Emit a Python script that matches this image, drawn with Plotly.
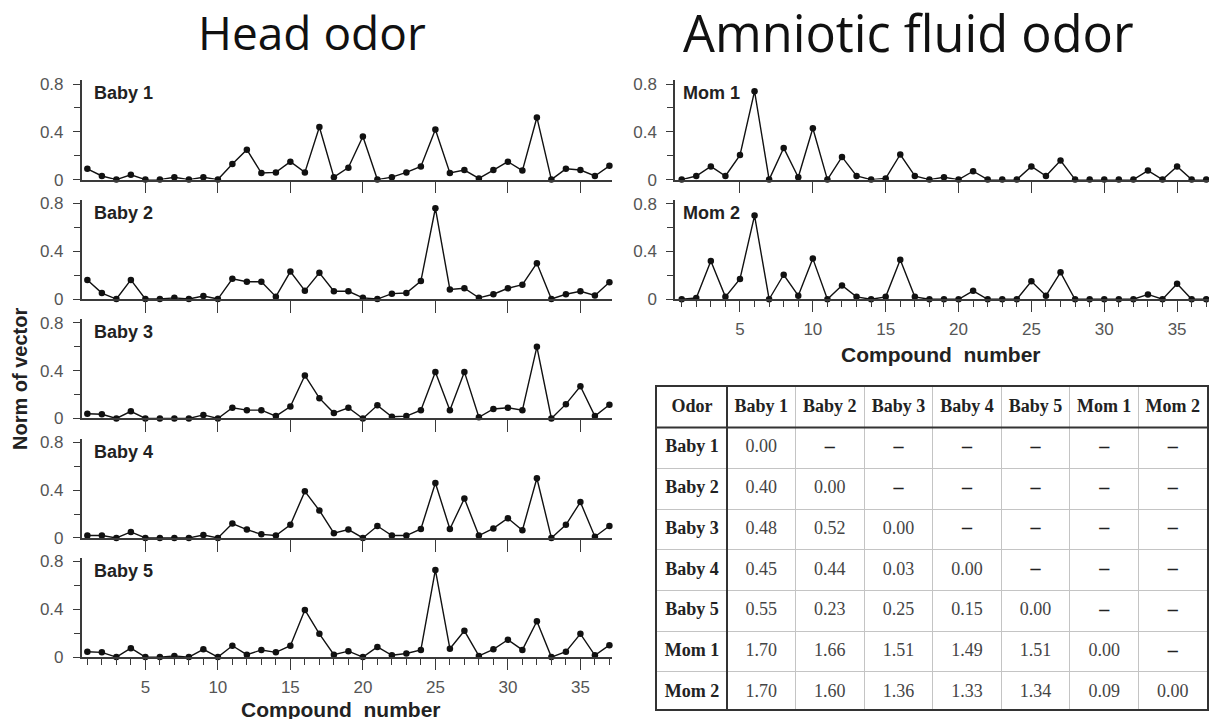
import plotly.graph_objects as go

compounds = list(range(1, 38))

baby1 = [0.09, 0.03, 0, 0.04, 0, 0, 0.02, 0, 0.02, 0, 0.13, 0.25, 0.055, 0.06, 0.15, 0.06, 0.44, 0.02, 0.10, 0.36,
         0, 0.02, 0.06, 0.11, 0.42, 0.055, 0.08, 0.01, 0.08, 0.15, 0.075, 0.52, 0, 0.09, 0.08, 0.03, 0.115]
baby2 = [0.16, 0.05, 0, 0.16, 0, 0, 0.01, 0, 0.025, 0, 0.17, 0.145, 0.145, 0.02, 0.23, 0.07, 0.22, 0.065, 0.065, 0.01,
         0, 0.045, 0.05, 0.15, 0.76, 0.08, 0.09, 0.01, 0.04, 0.09, 0.12, 0.30, 0, 0.04, 0.065, 0.03, 0.14]
baby3 = [0.04, 0.035, 0, 0.06, 0, 0, 0, 0, 0.03, 0, 0.09, 0.07, 0.07, 0.02, 0.10, 0.36, 0.17, 0.045, 0.09, 0,
         0.11, 0.015, 0.02, 0.07, 0.39, 0.07, 0.39, 0.01, 0.08, 0.09, 0.07, 0.60, 0, 0.12, 0.27, 0.02, 0.115]
baby4 = [0.02, 0.02, 0, 0.05, 0, 0, 0, 0, 0.025, 0, 0.12, 0.07, 0.03, 0.02, 0.11, 0.39, 0.23, 0.04, 0.07, 0,
         0.10, 0.02, 0.02, 0.075, 0.46, 0.075, 0.33, 0.02, 0.08, 0.165, 0.065, 0.50, 0, 0.11, 0.30, 0.01, 0.10]
baby5 = [0.045, 0.04, 0, 0.075, 0, 0, 0.01, 0, 0.065, 0, 0.095, 0.02, 0.06, 0.04, 0.095, 0.395, 0.195, 0.02, 0.05, 0,
         0.085, 0.015, 0.03, 0.06, 0.73, 0.07, 0.22, 0.01, 0.065, 0.145, 0.06, 0.30, 0, 0.045, 0.195, 0.015, 0.10]
mom1 = [0, 0.03, 0.11, 0.03, 0.205, 0.74, 0, 0.265, 0.02, 0.43, 0, 0.19, 0.03, 0, 0.01, 0.21, 0.03, 0, 0.02, 0,
        0.07, 0, 0, 0, 0.11, 0.03, 0.16, 0, 0, 0, 0, 0, 0.075, 0, 0.11, 0, 0]
mom2 = [0, 0.01, 0.32, 0.02, 0.17, 0.70, 0, 0.205, 0.03, 0.34, 0, 0.115, 0.02, 0, 0.02, 0.33, 0.02, 0, 0, 0,
        0.07, 0, 0, 0, 0.15, 0.03, 0.225, 0, 0, 0, 0, 0, 0.04, 0, 0.13, 0, 0]

odor_names = ["Baby 1", "Baby 2", "Baby 3", "Baby 4", "Baby 5", "Mom 1", "Mom 2"]
distance_rows = [
    [0.00, None, None, None, None, None, None],
    [0.40, 0.00, None, None, None, None, None],
    [0.48, 0.52, 0.00, None, None, None, None],
    [0.45, 0.44, 0.03, 0.00, None, None, None],
    [0.55, 0.23, 0.25, 0.15, 0.00, None, None],
    [1.70, 1.66, 1.51, 1.49, 1.51, 0.00, None],
    [1.70, 1.60, 1.36, 1.33, 1.34, 0.09, 0.00],
]

W, H = 1209, 719


def py(p):
    return 1 - p / H


def px(p):
    return p / W


fig = go.Figure()

LEFT = ((81.7, 612.3), [0.61, 37.2], 0.019)
RIGHT = ((675, 1209), [0.54, 37.19], 0.011)
YTOP = 0.83
PXU = 122.0  # pixels per unit of y

panels = [
    (baby1, "Baby 1", LEFT, 178.3, False),
    (baby2, "Baby 2", LEFT, 300.3, False),
    (baby3, "Baby 3", LEFT, 422.3, False),
    (baby4, "Baby 4", LEFT, 544.3, False),
    (baby5, "Baby 5", LEFT, 666.0, True),
    (mom1, "Mom 1", RIGHT, 178.3, False),
    (mom2, "Mom 2", RIGHT, 300.5, True),
]

axis_col = "#3a3a3a"
tick_font = dict(family="Liberation Sans, Arial", size=17, color="#555")

for i, (vals, label, side, zero_px, show_labels) in enumerate(panels):
    xd, xr, lx = side
    top_px = zero_px - YTOP * PXU
    n = i + 1
    xa = "x" if n == 1 else f"x{n}"
    ya = "y" if n == 1 else f"y{n}"
    fig.add_trace(go.Scatter(
        x=compounds, y=vals, mode="lines+markers",
        line=dict(color="#111", width=1.4),
        marker=dict(color="#111", size=6.5),
        xaxis=xa, yaxis=ya, cliponaxis=False, showlegend=False, hoverinfo="skip",
    ))
    xkey = "xaxis" if n == 1 else f"xaxis{n}"
    ykey = "yaxis" if n == 1 else f"yaxis{n}"
    xaxis = dict(
        domain=[px(xd[0]), px(xd[1])], range=xr, anchor=ya,
        showgrid=False, zeroline=False, showline=True, linecolor=axis_col, linewidth=1.5,
        tickmode="array", tickvals=[5, 10, 15, 20, 25, 30, 35],
        ticks="outside", ticklen=12, tickwidth=1.4, tickcolor=axis_col,
        showticklabels=show_labels, tickfont=tick_font,
    )
    if show_labels:
        xaxis["ticklen"] = 11
        xaxis["ticklabelstandoff"] = 3
        xaxis["minor"] = dict(dtick=1, tick0=0, ticks="outside", ticklen=6, tickwidth=1.2, tickcolor=axis_col)
    fig.layout[xkey] = xaxis
    fig.layout[ykey] = dict(
        domain=[py(zero_px), py(top_px)], range=[0, YTOP], anchor=xa,
        showgrid=False, zeroline=False, showline=True, linecolor=axis_col, linewidth=1.5,
        tickmode="array", tickvals=[0, 0.4, 0.8], ticktext=["0", "0.4", "0.8"],
        ticks="outside", ticklen=7, tickwidth=1.3, tickcolor=axis_col, ticklabelstandoff=6,
        minor=dict(tickmode="array", tickvals=[0.2, 0.6], ticks="outside", ticklen=6, tickwidth=1.1, tickcolor=axis_col),
        tickfont=tick_font,
    )
    fig.add_annotation(
        text=f"<b>{label}</b>", xref=f"{xa} domain", yref=f"{ya} domain",
        x=lx, y=0.87, xanchor="left", yanchor="middle", showarrow=False,
        font=dict(family="Liberation Sans, Arial", size=18, color="#222"),
    )

# Titles
fig.add_annotation(text="Head odor", xref="paper", yref="paper", x=px(312), y=py(28),
                   xanchor="center", yanchor="middle", showarrow=False,
                   font=dict(family="Open Sans, Liberation Sans", size=46, color="#111"))
fig.add_annotation(text="Amniotic fluid odor", xref="paper", yref="paper", x=px(908), y=py(28),
                   xanchor="center", yanchor="middle", showarrow=False,
                   font=dict(family="Open Sans, Liberation Sans", size=50.5, color="#111"))

# Axis titles
fig.add_annotation(text="<b>Norm of vector</b>", xref="paper", yref="paper", x=px(20), y=py(382),
                   xanchor="center", yanchor="middle", textangle=-90, showarrow=False,
                   font=dict(family="Liberation Sans, Arial", size=20, color="#222"))
fig.add_annotation(text="<b>Compound  number</b>", xref="paper", yref="paper", x=px(340), y=py(720),
                   xanchor="center", yanchor="middle", showarrow=False,
                   font=dict(family="Liberation Sans, Arial", size=21, color="#222"))
fig.add_annotation(text="<b>Compound  number</b>", xref="paper", yref="paper", x=px(940), y=py(357),
                   xanchor="center", yanchor="middle", showarrow=False,
                   font=dict(family="Liberation Sans, Arial", size=21, color="#222"))

# ---------------- Table (built on its own axis pair) ----------------
tbl_left, tbl_right, tbl_top = 657, 1207, 390
row_h = 41.6
first_w = 70.0
other_w = (tbl_right - tbl_left - first_w) / 7
col_edges = [0.0, first_w] + [first_w + other_w * k for k in range(1, 8)]
col_centers = [(col_edges[k] + col_edges[k + 1]) / 2 for k in range(8)]
n_rows_visible = (H - tbl_top) / row_h  # table continues to bottom edge

serif = "Liberation Serif, Times New Roman"
tx, ty = "x8", "y8"

# header row
fig.add_trace(go.Scatter(
    x=col_centers, y=[0.5] * 8, mode="text",
    text=["<b>Odor</b>"] + [f"<b>{n}</b>" for n in odor_names],
    textposition="middle center", textfont=dict(family=serif, size=18, color="#222"),
    xaxis=tx, yaxis=ty, showlegend=False, hoverinfo="skip", cliponaxis=False,
))
# row labels
fig.add_trace(go.Scatter(
    x=[col_centers[0]] * 7, y=[r + 1.5 for r in range(7)], mode="text",
    text=[f"<b>{n}</b>" for n in odor_names],
    textposition="middle center", textfont=dict(family=serif, size=18, color="#222"),
    xaxis=tx, yaxis=ty, showlegend=False, hoverinfo="skip", cliponaxis=False,
))
# numeric values and dashes
vx, vy, vt, dx, dy = [], [], [], [], []
for r, row in enumerate(distance_rows):
    for c, v in enumerate(row):
        if v is None:
            dx.append(col_centers[c + 1])
            dy.append(r + 1.5)
        else:
            vx.append(col_centers[c + 1])
            vy.append(r + 1.5)
            vt.append(f"{v:.2f}")
fig.add_trace(go.Scatter(
    x=vx, y=vy, text=vt, mode="text", textposition="middle center",
    textfont=dict(family=serif, size=18, color="#444"),
    xaxis=tx, yaxis=ty, showlegend=False, hoverinfo="skip", cliponaxis=False,
))
fig.add_trace(go.Scatter(
    x=dx, y=dy, text=["<b>–</b>"] * len(dx), mode="text", textposition="middle center",
    textfont=dict(family=serif, size=20, color="#222"),
    xaxis=tx, yaxis=ty, showlegend=False, hoverinfo="skip", cliponaxis=False,
))

fig.layout["xaxis8"] = dict(
    domain=[px(tbl_left), px(tbl_right)], range=[0, col_edges[-1]], anchor=ty,
    showgrid=True, gridcolor="#c4c4c4", gridwidth=1, tickmode="array", tickvals=col_edges[2:-1],
    showticklabels=False, ticks="", zeroline=False, showline=True, mirror=True,
    linecolor="#333", linewidth=2, fixedrange=True,
)
fig.layout["yaxis8"] = dict(
    domain=[0, py(tbl_top)], range=[n_rows_visible, 0], anchor=tx,
    showgrid=True, gridcolor="#c4c4c4", gridwidth=1, tickmode="array", tickvals=list(range(2, 8)),
    showticklabels=False, ticks="", zeroline=False, showline=True, mirror=True,
    linecolor="#333", linewidth=2, fixedrange=True,
)
border = dict(color="#333", width=2)
fig.add_shape(type="line", xref=tx, yref=ty, x0=0, x1=col_edges[-1], y0=1, y1=1, line=border)
fig.add_shape(type="line", xref=tx, yref=ty, x0=first_w, x1=first_w, y0=0, y1=n_rows_visible, line=border)

fig.update_layout(
    width=W, height=H, margin=dict(l=0, r=0, t=0, b=0),
    paper_bgcolor="white", plot_bgcolor="white",
)

fig.write_html("out.html", config={"displayModeBar": False},
               post_script="document.body.style.margin='0px';")
